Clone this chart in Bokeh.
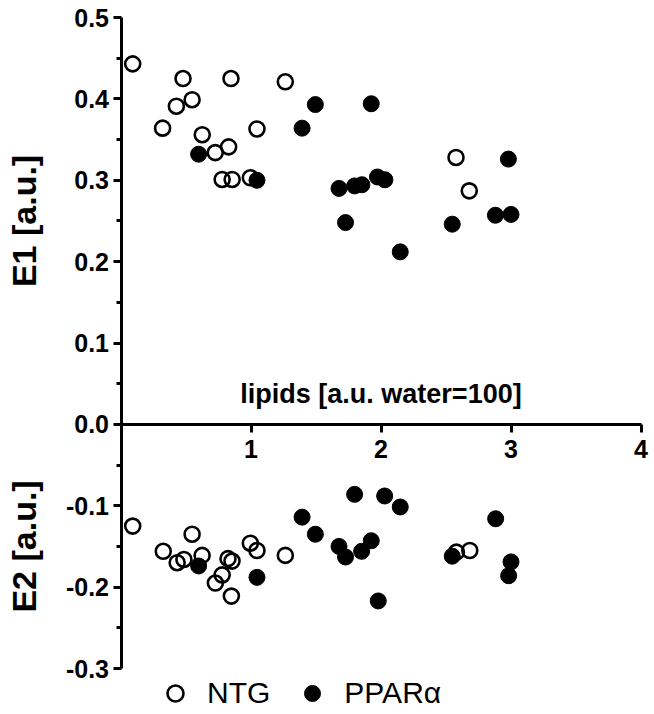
import math
from bokeh.plotting import figure
from bokeh.models import (Range1d, FixedTicker, PrintfTickFormatter, Label,
                          Legend, LegendItem)
from bokeh.embed import file_html
from bokeh.resources import INLINE

# ---- data ----
ntg_e1_lipids = [0.09, 0.477, 0.846, 1.264, 0.426, 0.547, 0.32, 0.625, 1.046,
                 0.725, 0.828, 0.778, 0.855, 0.995, 2.577, 2.679]
ntg_e1 = [0.443, 0.425, 0.425, 0.421, 0.391, 0.399, 0.364, 0.356, 0.363,
          0.334, 0.341, 0.301, 0.301, 0.303, 0.328, 0.287]

ntg_e2_lipids = [0.09, 0.325, 0.432, 0.484, 0.547, 0.624, 0.726, 0.778, 0.823,
                 0.854, 0.849, 0.995, 1.046, 1.264, 2.58, 2.683]
ntg_e2 = [-0.125, -0.156, -0.170, -0.166, -0.135, -0.161, -0.195, -0.185, -0.165,
          -0.168, -0.211, -0.146, -0.155, -0.161, -0.157, -0.155]

ppar_e1_lipids = [0.597, 1.046, 1.393, 1.495, 1.925, 1.677, 1.797, 1.853, 1.973,
                  2.03, 1.727, 2.148, 2.98, 2.548, 2.88, 3.0]
ppar_e1 = [0.332, 0.300, 0.364, 0.393, 0.394, 0.290, 0.293, 0.2945, 0.304,
           0.3006, 0.248, 0.212, 0.326, 0.246, 0.257, 0.258]

ppar_e2_lipids = [0.597, 1.046, 1.393, 1.495, 1.677, 1.727, 1.797, 1.851, 1.925,
                  2.028, 2.148, 1.979, 2.548, 2.882, 3.0, 2.982]
ppar_e2 = [-0.174, -0.188, -0.114, -0.135, -0.150, -0.163, -0.086, -0.156, -0.143,
           -0.088, -0.1015, -0.217, -0.162, -0.116, -0.169, -0.186]

x_ticks = [1, 2, 3, 4]
y_ticks = [-0.3, -0.2, -0.1, 0.0, 0.1, 0.2, 0.3, 0.4, 0.5]
y_minor = [-0.25, -0.15, -0.05, 0.05, 0.15, 0.25, 0.35, 0.45]

FONT = "Liberation Sans"

W, H = 652, 712
x0_px, px_per_x = 120.5, 130.0          # screen position of x=0, px per unit
ytop_px, px_per_y = 17.0, 813.75        # screen position of y=0.5, px per unit
x_start = -x0_px / px_per_x
x_end = (W - x0_px) / px_per_x
y_end = 0.5 + ytop_px / px_per_y
y_start = 0.5 - (H - ytop_px) / px_per_y

p = figure(width=W, height=H, title=None,
           x_range=Range1d(x_start, x_end), y_range=Range1d(y_start, y_end),
           output_backend="svg", toolbar_location=None,
           min_border_left=0, min_border_right=0,
           min_border_top=0, min_border_bottom=0)
p.outline_line_color = None
p.xgrid.visible = False
p.ygrid.visible = False
p.background_fill_color = "white"

# x axis crossing at y = 0
xa = p.xaxis[0]
xa.fixed_location = 0
xa.ticker = FixedTicker(ticks=x_ticks)
xa.bounds = (0, 4)
xa.axis_line_width = 3
xa.major_tick_line_width = 3
xa.major_tick_out = 8
xa.major_tick_in = 0
xa.minor_tick_line_color = None
xa.major_label_standoff = 8
xa.major_label_text_color = "black"
xa.major_label_text_font = FONT
xa.major_label_text_font_style = "bold"
xa.major_label_text_font_size = "25px"

# y axis at x = 0
ya = p.yaxis[0]
ya.fixed_location = 0
ya.ticker = FixedTicker(ticks=y_ticks, minor_ticks=y_minor)
ya.bounds = (-0.3, 0.5)
ya.formatter = PrintfTickFormatter(format="%.1f")
ya.axis_line_width = 3
ya.major_tick_line_width = 3
ya.minor_tick_line_width = 3
ya.major_tick_out = 8
ya.major_tick_in = 0
ya.minor_tick_out = 5
ya.minor_tick_in = 0
ya.major_label_standoff = 4
ya.major_label_text_color = "black"
ya.major_label_text_font = FONT
ya.major_label_text_font_style = "bold"
ya.major_label_text_font_size = "25px"

# data points
r_ntg = p.scatter(ntg_e1_lipids, ntg_e1, marker="circle", size=15, fill_color=None,
                  line_color="black", line_width=2.6)
p.scatter(ntg_e2_lipids, ntg_e2, marker="circle", size=15, fill_color=None,
          line_color="black", line_width=2.6)
r_ppar = p.scatter(ppar_e1_lipids, ppar_e1, marker="circle", size=16,
                   fill_color="black", line_color="black", line_width=1)
p.scatter(ppar_e2_lipids, ppar_e2, marker="circle", size=16, fill_color="black",
          line_color="black", line_width=1)

# axis titles
p.add_layout(Label(x=2, y=0, y_offset=15, text="lipids [a.u. water=100]",
                   text_align="center", text_baseline="bottom", text_color="black",
                   text_font=FONT, text_font_style="bold", text_font_size="27px"))
p.add_layout(Label(x=-0.75, y=0.25, text="E1 [a.u.]", angle=math.pi / 2,
                   text_align="center", text_baseline="middle", text_color="black",
                   text_font=FONT, text_font_style="bold", text_font_size="34px"))
p.add_layout(Label(x=-0.75, y=-0.15, text="E2 [a.u.]", angle=math.pi / 2,
                   text_align="center", text_baseline="middle", text_color="black",
                   text_font=FONT, text_font_style="bold", text_font_size="34px"))

# legend
legend = Legend(items=[LegendItem(label="NTG", renderers=[r_ntg]),
                       LegendItem(label="PPARα", renderers=[r_ppar])],
                orientation="horizontal", location=(155, -1),
                glyph_width=40, glyph_height=40, label_standoff=12, spacing=22,
                padding=0, margin=0, border_line_color=None,
                background_fill_alpha=0, label_text_color="black",
                label_text_font=FONT, label_text_font_size="30px")
p.add_layout(legend)

open("out.html", "w").write(file_html(p, INLINE))
